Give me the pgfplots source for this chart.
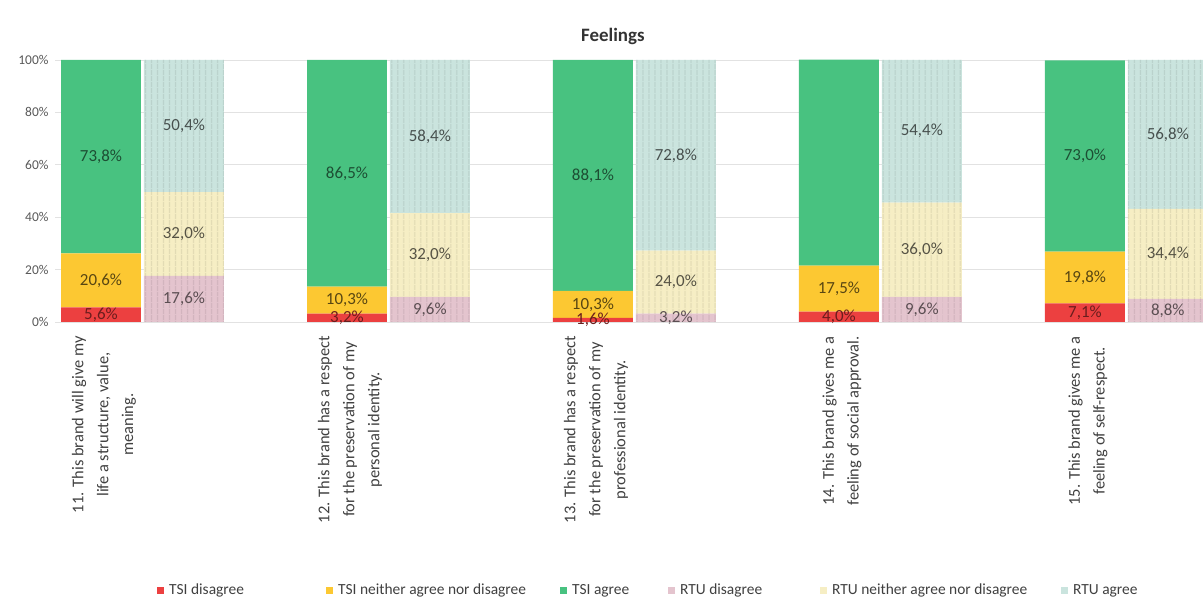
\documentclass[border=0pt]{standalone}
\usepackage{pgfplots}
\pgfplotsset{compat=1.18}
\usepackage{pgfplotstable}
\usepackage{fontspec}
\setmainfont{Carlito}
\usetikzlibrary{patterns.meta}

\definecolor{tsidis}{RGB}{236,64,64}
\definecolor{tsineu}{RGB}{252,200,50}
\definecolor{tsiagr}{RGB}{72,194,128}
\definecolor{rtudis}{RGB}{228,196,206}
\definecolor{rtuneu}{RGB}{246,238,196}
\definecolor{rtuagr}{RGB}{202,228,222}
\definecolor{txt}{RGB}{64,64,64}
\definecolor{gridc}{RGB}{226,226,226}

% TSI answers, statements 11-15 (percent)
\pgfplotstableread{
x  dis  neu  agr
0  5.6  20.6 73.8
1  3.2  10.3 86.5
2  1.6  10.3 88.1
3  4.0  17.5 78.6
4  7.1  19.8 73.0
}\tsidata
% RTU answers, statements 11-15 (percent), bars placed beside the TSI ones
\pgfplotstableread{
x     dis  neu  agr
0.337 17.6 32.0 50.4
1.337 9.6  32.0 58.4
2.337 3.2  24.0 72.8
3.337 9.6  36.0 54.4
4.337 8.8  34.4 56.8
}\rtudata

\pgfplotsset{
  /pgf/number format/assume math mode=true,
  area legend/.style={legend image code/.code={\fill[##1] (0bp,-4bp) rectangle (7bp,3bp);}},
  feel/.style={
    scale only axis, width=1148bp, height=262bp,
    at={(55bp,283bp)}, anchor=south west,
    xmin=-0.187, xmax=4.48, ymin=0, ymax=100,
    ybar stacked, bar width=0.325,
    point meta=rawy,
    nodes near coords={\pgfmathprintnumber[fixed,fixed zerofill,precision=1,use comma]{\pgfplotspointmeta}\%},
    every node near coord/.append style={anchor=center, font=\fontsize{17}{17}\selectfont},
  },
  rtu/.style={fill=#1, draw=none,
    postaction={pattern={Lines[angle=90,distance=6bp,line width=1.5bp]}, pattern color=#1!92!black}},
}

\begin{document}
\begin{tikzpicture}
\path[use as bounding box] (0,0) rectangle (1203bp,605bp);
\begin{axis}[feel,
  axis line style={draw=none}, tick style={draw=none},
  ymajorgrids, grid style={gridc, line width=0.8bp},
  ytick={0,20,...,100},
  yticklabels={0\%,20\%,40\%,60\%,80\%,100\%},
  yticklabel style={font=\fontsize{13.5}{13.5}\selectfont, text=black!65, xshift=-3bp},
  xtick={0,1,2,3,4},
  xticklabels={
    {11. This brand will give my\\life a structure, value,\\meaning.},
    {12. This brand has a respect\\for the preservation of my\\personal identity.},
    {13. This brand has a respect\\for the preservation of my\\professional identity.},
    {14. This brand gives me a\\feeling of social approval.},
    {15. This brand gives me a\\feeling of self-respect.}},
  xticklabel style={xshift=3bp, yshift=-14bp, rotate=90, anchor=east, align=center, inner sep=0pt,
    font=\fontsize{16.5}{25}\selectfont, text=txt},
  title={\bfseries Feelings},
  title style={at={(axis description cs:0.486,1)}, anchor=base, yshift=13bp,
    font=\fontsize{19}{19}\selectfont, text=black!80},
  legend columns=6,
  legend style={at={(axis description cs:0,-1.023)}, anchor=west, xshift=102bp, draw=none,
    font=\fontsize{15.5}{15.5}\selectfont, text=txt, inner sep=0pt,
    /tikz/every odd column/.append style={column sep=3bp}},
]
\addplot[forget plot, fill=tsidis, draw=none, every node near coord/.append style={text=tsidis!45!black}]
  table[x=x, y=dis] {\tsidata};
\addplot[forget plot, fill=tsineu, draw=none, every node near coord/.append style={text=tsineu!35!black}]
  table[x=x, y=neu] {\tsidata};
\addplot[forget plot, fill=tsiagr, draw=none, every node near coord/.append style={text=tsiagr!40!black}]
  table[x=x, y=agr] {\tsidata};
\addlegendimage{area legend, fill=tsidis, draw=none}
\addlegendentry{\makebox[155bp][l]{TSI disagree}}
\addlegendimage{area legend, fill=tsineu, draw=none}
\addlegendentry{\makebox[220bp][l]{TSI neither agree nor disagree}}
\addlegendimage{area legend, fill=tsiagr, draw=none}
\addlegendentry{\makebox[94bp][l]{TSI agree}}
\addlegendimage{area legend, fill=rtudis, draw=none}
\addlegendentry{\makebox[138bp][l]{RTU disagree}}
\addlegendimage{area legend, fill=rtuneu, draw=none}
\addlegendentry{\makebox[227bp][l]{RTU neither agree nor disagree}}
\addlegendimage{area legend, fill=rtuagr, draw=none}
\addlegendentry{RTU agree}
\end{axis}
\begin{axis}[feel, hide axis]
\addplot[rtu=rtudis, every node near coord/.append style={text=rtudis!40!black}]
  table[x=x, y=dis] {\rtudata};
\addplot[rtu=rtuneu, every node near coord/.append style={text=rtuneu!35!black}]
  table[x=x, y=neu] {\rtudata};
\addplot[rtu=rtuagr, every node near coord/.append style={text=rtuagr!35!black}]
  table[x=x, y=agr] {\rtudata};
\end{axis}
\end{tikzpicture}
\end{document}
